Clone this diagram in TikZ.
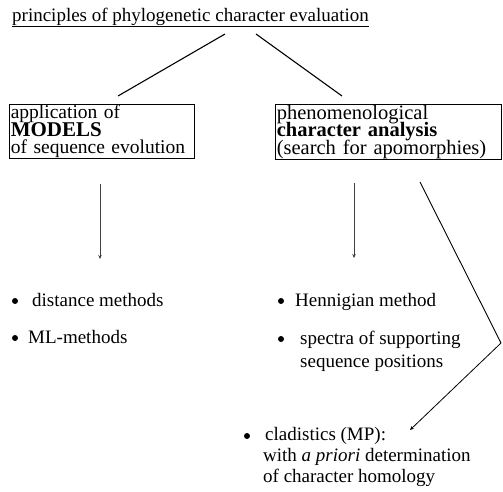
\documentclass[tikz,border=0pt]{standalone}
\usepackage{fontspec}
\setmainfont{Liberation Serif}
\usetikzlibrary{arrows.meta}
\newcommand\mytightlines{\lineskiplimit=-30pt\relax\lineskip=0pt\relax}
\tikzset{
  txt/.style={inner sep=0pt, anchor=base west, font=\fontsize{19}{21}\selectfont},
  bul/.style={circle, fill=black, inner sep=0pt, minimum size=6pt},
  boxnode/.style={draw, line width=0.6pt, inner xsep=1.5pt, inner ysep=0.5pt, anchor=north west, align=left},
  link/.style={line width=1.1pt},
  thinarrow/.style={line width=0.6pt, draw=black!75, -{Stealth[length=4pt,width=3.5pt]}},
  diag/.style={line width=0.9pt}
}
\begin{document}
\begin{tikzpicture}[x=1pt,y=-1pt]
\useasboundingbox (0,0) rectangle (503,491);
% title
\node[txt] (title) at (12,21) {\underline{principles of phylogenetic character evaluation}};
% boxes
\node[boxnode, text width=182pt, font={\fontsize{19.5}{17.5}\selectfont\mytightlines}] (lbox) at (9,104)
  {application of\\{\fontsize{21}{17.5}\selectfont\textbf{MODELS}}\\of sequence evolution};
\node[boxnode, text width=223pt, font={\fontsize{20.5}{17.5}\selectfont\mytightlines}] (rbox) at (275,104)
  {phenomenological\\\textbf{character analysis}\\(search for apomorphies)};
% title connectors
\coordinate (t1) at (225,34);
\coordinate (t2) at (256,34);
\coordinate (b1) at (118,96);
\coordinate (b2) at (342,96);
\draw[link] (t1) -- (b1);
\draw[link] (t2) -- (b2);
% vertical arrows
\coordinate (la1) at (100,184);
\coordinate (la2) at (100,259);
\coordinate (ma1) at (354,183);
\coordinate (ma2) at (354,258);
\draw[thinarrow] (la1) -- (la2);
\draw[thinarrow] (ma1) -- (ma2);
% left list
\node[bul] (bd) at (15,301) {};
\node[txt] (dist) at (32,306) {distance methods};
\node[bul] (bm) at (15,338) {};
\node[txt] (ml) at (28,343) {ML-methods};
% middle list
\node[bul] (bh) at (281,301) {};
\node[txt] (henn) at (295,306) {Hennigian method};
\node[bul] (bs) at (281,339) {};
\node[txt, align=left, font=\fontsize{19}{23}\selectfont] (spec) at (300,367) {spectra of supporting\\sequence positions};
% cladistics
\node[bul] (bc) at (247,436) {};
\node[txt, align=left, font=\fontsize{19}{21}\selectfont] (clad) at (263,482) {\hspace{2pt}cladistics (MP):\\with \textit{a priori} determination\\of character homology};
% diagonal connector
\coordinate (d1) at (420,182);
\coordinate (d2) at (501,343);
\coordinate (d3) at (410,430);
\draw[diag] (d1) -- (d2);
\draw[diag, line width=0.8pt, -{Stealth[length=4pt,width=3.5pt]}] (d2) -- (d3);
\end{tikzpicture}
\end{document}
